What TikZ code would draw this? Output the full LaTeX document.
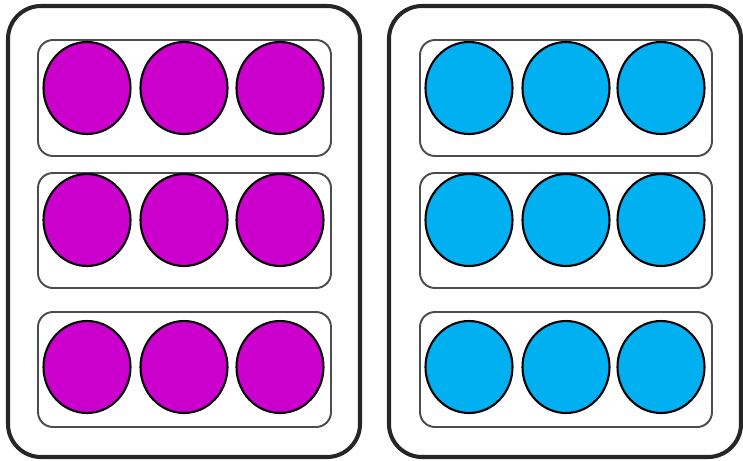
\documentclass[tikz,border=0pt]{standalone}
\usepackage{tikz}
\usetikzlibrary{positioning, shapes.geometric}
\usepackage{xcolor}
\definecolor{traymagenta}{RGB}{204, 0, 204}
\definecolor{traycyan}{RGB}{0, 176, 240}

\begin{document}
\begin{tikzpicture}[x=0.02cm, y=-0.02cm,
    tray/.style={draw=black!85, line width=2.3pt, rounded corners=0.66cm},
    slot/.style={draw=black!70, line width=1.1pt, rounded corners=0.3cm},
    counter/.style={ellipse, draw=black, line width=1.2pt, inner sep=0pt,
                    minimum width=1.74cm, minimum height=1.84cm}]
  \useasboundingbox (0,0) rectangle (743,460);
  % two trays
  \draw[tray] (8,6) rectangle (360,457);
  \draw[tray] (389,6) rectangle (741,457);
  % rows of counters
  \foreach \top/\bot/\cy [count=\r] in {40/156/88, 173/288/220, 312/427/367} {
    \draw[slot] (38,\top) rectangle (331,\bot);
    \draw[slot] (420,\top) rectangle (712,\bot);
    \foreach \lx/\rx [count=\c] in {87/469, 184/566, 280/661} {
      \node[counter, fill=traymagenta] (left-\r-\c) at (\lx,\cy) {};
      \node[counter, fill=traycyan] (right-\r-\c) at (\rx,\cy) {};
    }
  }
\end{tikzpicture}
\end{document}
